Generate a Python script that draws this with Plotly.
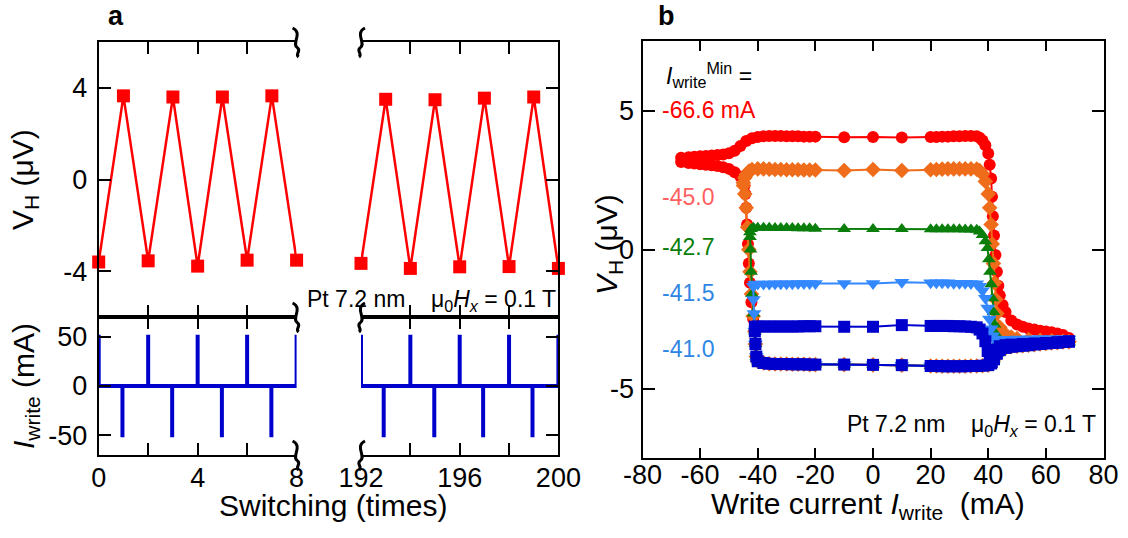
import plotly.graph_objects as go

W, H = 1128, 538
FONT = "Liberation Sans, Arial, Helvetica, sans-serif"

# ---------------- Panel a data ----------------
sw_left = [0, 1, 2, 3, 4, 5, 6, 7, 8]
vh_left = [-3.60, 3.65, -3.55, 3.60, -3.78, 3.60, -3.52, 3.65, -3.52]
sw_right = [192, 193, 194, 195, 196, 197, 198, 199, 200]
vh_right = [-3.66, 3.50, -3.88, 3.48, -3.81, 3.55, -3.80, 3.60, -3.88]

pulse_left_t = [0, 0.96, 2, 2.97, 4, 4.98, 6, 6.98, 8]
pulse_left_I = [52, -52, 52, -52, 52, -52, 52, -52, 52]
pulse_right_t = [192, 192.92, 194, 194.97, 196, 196.95, 198, 198.95, 200]
pulse_right_I = [52, -52, 52, -52, 52, -52, 52, -52, 52]

xt_left_vals = [0, 4, 8]
xt_right_vals = [192, 196, 200]
yt_top_vals = [-4, 0, 4]
yt_bot_vals = [-50, 0, 50]
xt_b_vals = [-80, -60, -40, -20, 0, 20, 40, 60, 80]
yt_b_vals = [-5, 0, 5]

# ---------------- Panel b data ----------------
# common descending (lower-state) branch, +68 mA -> -40 mA
LOWER_I = [68, 66, 64, 62, 60, 58, 56, 54, 52, 50, 48, 46, 44, 43, 42, 41, 40,
           38, 36, 34, 32, 30, 28, 26, 24, 22, 20, 10, 0, -10,
           -20, -22, -24, -26, -28, -30, -32, -34, -36, -38, -40]
LOWER_V = [-3.32, -3.33, -3.35, -3.36, -3.38, -3.40, -3.42, -3.44, -3.46, -3.48, -3.50, -3.54, -3.62,
           -3.75, -3.95, -4.10, -4.16,
           -4.18, -4.19, -4.19, -4.20, -4.20, -4.20, -4.20, -4.20, -4.19, -4.19,
           -4.16, -4.15, -4.14,
           -4.14, -4.14, -4.13, -4.13, -4.13, -4.12, -4.12, -4.12, -4.11, -4.08, -4.02]
# common ascending middle currents
MID_I = [-40, -38, -36, -34, -32, -30, -28, -26, -24, -22, -20, -10, 0, 10,
         20, 22, 24, 26, 28, 30, 32, 34, 36]

# I_write^Min = -66.6 mA (red)
red_down_I = [-40.5, -40.8, -41.0, -41.6, -42.2, -42.7, -43.1, -43.4, -43.7, -44.0, -44.3, -44.6,
              -45.0, -46, -48, -50, -52, -54, -56, -58, -60, -62, -64, -66.6]
red_down_V = [-3.85, -3.40, -2.95, -2.50, -1.90, -1.20, -0.50, 0.20, 0.90, 1.50, 2.00, 2.30,
              2.45, 2.62, 2.78, 2.90, 2.96, 3.00, 3.03, 3.05, 3.07, 3.09, 3.11, 3.15]
red_pre_I = [-66.6, -64, -62, -60, -58, -56, -54, -52, -50, -48, -46, -44, -42]
red_pre_V = [3.30, 3.32, 3.34, 3.35, 3.36, 3.38, 3.40, 3.42, 3.46, 3.55, 3.72, 3.90, 4.00]
red_mid_V = [4.05, 4.07, 4.08, 4.08, 4.08, 4.07, 4.07, 4.07, 4.06, 4.06, 4.06, 4.04, 4.05,
             4.03, 4.05, 4.05, 4.06, 4.06, 4.07, 4.07, 4.08, 4.08, 4.07]
red_post_I = [37, 38, 39, 40, 40.5, 41, 41.3, 41.6, 42, 42.5, 43, 43.5, 44, 45, 46, 48,
              50, 52, 54, 56, 58, 60, 62, 64, 66, 68]
red_post_V = [4.02, 3.92, 3.75, 3.45, 3.05, 2.55, 1.90, 1.20, 0.50, -0.20, -0.80, -1.30,
              -1.65, -2.00, -2.25, -2.55, -2.70, -2.78, -2.84, -2.88, -2.92, -2.95, -2.98,
              -3.02, -3.08, -3.18]

# -45.0 mA (orange)
org_down_I = [-40.5, -40.8, -41.0, -41.6, -42.2, -42.7, -43.1, -43.5, -44.0, -44.5, -45.0]
org_down_V = [-3.85, -3.40, -2.95, -2.40, -1.60, -0.80, 0.00, 0.80, 1.50, 2.00, 2.30]
org_pre_I = [-45.0, -44.5, -44.0, -43.0, -42.0]
org_pre_V = [2.40, 2.58, 2.70, 2.82, 2.88]
org_mid_V = [2.90, 2.90, 2.89, 2.88, 2.88, 2.87, 2.87, 2.87, 2.86, 2.86, 2.86, 2.84, 2.88,
             2.84, 2.87, 2.88, 2.89, 2.90, 2.90, 2.90, 2.90, 2.90, 2.89]
org_post_I = [37, 38, 39, 40, 40.5, 41, 41.4, 41.8, 42.2, 42.6, 43, 44, 46, 48, 50, 54,
              58, 62, 66, 68]
org_post_V = [2.84, 2.72, 2.45, 2.00, 1.50, 0.90, 0.20, -0.50, -1.20, -1.80, -2.30, -2.80,
              -3.05, -3.15, -3.20, -3.24, -3.27, -3.28, -3.30, -3.32]

# -42.7 mA (green)
grn_down_I = [-40.5, -40.8, -41.0, -41.5, -42.0, -42.3, -42.5, -42.7]
grn_down_V = [-3.85, -3.40, -2.95, -2.30, -1.60, -0.80, 0.00, 0.45]
grn_pre_I = [-42.7, -42.3, -41.5]
grn_pre_V = [0.62, 0.74, 0.78]
grn_mid_V = [0.78, 0.78, 0.78, 0.77, 0.77, 0.77, 0.77, 0.76, 0.76, 0.76, 0.75, 0.74, 0.74,
             0.74, 0.73, 0.73, 0.73, 0.73, 0.73, 0.73, 0.72, 0.72, 0.71]
grn_post_I = [37, 38, 39, 39.7, 40.2, 40.6, 41.0, 41.4, 41.8, 42.2, 42.7, 43.5, 45, 48,
              52, 56, 60, 64, 68]
grn_post_V = [0.65, 0.52, 0.30, 0.05, -0.35, -0.80, -1.25, -1.75, -2.25, -2.70, -3.05,
              -3.30, -3.38, -3.40, -3.40, -3.40, -3.40, -3.38, -3.36]

# -41.5 mA (light blue)
lb_down_I = [-40.5, -40.8, -41.0, -41.3, -41.5]
lb_down_V = [-3.85, -3.40, -2.95, -2.30, -1.80]
lb_pre_I = [-41.5, -41.0]
lb_pre_V = [-1.32, -1.25]
lb_mid_V = [-1.24, -1.24, -1.24, -1.23, -1.23, -1.23, -1.23, -1.22, -1.22, -1.22, -1.22,
            -1.22, -1.22, -1.18, -1.20, -1.20, -1.20, -1.20, -1.21, -1.21, -1.21, -1.22, -1.23]
lb_post_I = [37, 38, 39, 39.8, 40.4, 41.0, 41.5, 42.0, 43, 44, 46, 50, 54, 58, 62, 66, 68]
lb_post_V = [-1.32, -1.48, -1.75, -2.10, -2.50, -2.85, -3.10, -3.22, -3.24, -3.24, -3.23,
             -3.22, -3.21, -3.20, -3.20, -3.20, -3.22]

# -41.0 mA (dark blue)
db_down_I = [-40.5, -40.8, -41.0]
db_down_V = [-3.85, -3.40, -2.95]
db_pre_I = [-41.0]
db_pre_V = [-2.78]
db_mid_V = [-2.77, -2.77, -2.77, -2.77, -2.77, -2.77, -2.77, -2.77, -2.76, -2.76, -2.76,
            -2.78, -2.78, -2.72, -2.75, -2.75, -2.75, -2.75, -2.76, -2.76, -2.77, -2.78, -2.80]
db_post_I = [37, 38, 39, 39.8, 40.5, 41.2, 42, 43, 44, 46, 48, 52, 56, 60, 64, 68]
db_post_V = [-2.88, -3.02, -3.30, -3.65, -3.95, -4.05, -3.85, -3.60, -3.48, -3.44, -3.42,
             -3.40, -3.38, -3.36, -3.34, -3.30]

loops = [
    ("-66.6", "#FF0000", "circle", 12, red_down_I, red_down_V, red_pre_I, red_pre_V, red_mid_V, red_post_I, red_post_V),
    ("-45.0", "#EF6C1A", "diamond", 12, org_down_I, org_down_V, org_pre_I, org_pre_V, org_mid_V, org_post_I, org_post_V),
    ("-42.7", "#0A7E0A", "triangle-up", 12, grn_down_I, grn_down_V, grn_pre_I, grn_pre_V, grn_mid_V, grn_post_I, grn_post_V),
    ("-41.5", "#3388FF", "triangle-down", 13, lb_down_I, lb_down_V, lb_pre_I, lb_pre_V, lb_mid_V, lb_post_I, lb_post_V),
    ("-41.0", "#0000CC", "square", 12, db_down_I, db_down_V, db_pre_I, db_pre_V, db_mid_V, db_post_I, db_post_V),
]


def px(x):
    return x / W


def py(y):
    return 1 - y / H


def labels(vals):
    # ASCII hyphen for negatives, as in the reference
    return [str(v) for v in vals]


fig = go.Figure()

# panel a, V_H
RED = "#FF0000"
for xs, ys, xa, ya in [(sw_left, vh_left, "x", "y"), (sw_right, vh_right, "x2", "y2")]:
    fig.add_trace(go.Scatter(x=xs, y=ys, xaxis=xa, yaxis=ya, mode="lines+markers",
                             line=dict(color=RED, width=2.5),
                             marker=dict(symbol="square", size=13, color=RED),
                             cliponaxis=False, showlegend=False))

# panel a, write-current pulses
BLUE = "#0000CC"
for ts, amps, xa, ya in [(pulse_left_t, pulse_left_I, "x3", "y3"),
                         (pulse_right_t, pulse_right_I, "x4", "y4")]:
    px_, py_ = [], []
    for t, a in zip(ts, amps):
        px_ += [t, t, t]
        py_ += [0, a, 0]
    fig.add_trace(go.Scatter(x=px_, y=py_, xaxis=xa, yaxis=ya, mode="lines",
                             line=dict(color=BLUE, width=4), cliponaxis=False,
                             showlegend=False))

# panel b loops
for name, col, sym, size, dI, dV, pI, pV, mV, qI, qV in loops:
    xs = LOWER_I + dI + pI + MID_I + qI
    ys = LOWER_V + dV + pV + mV + qV
    fig.add_trace(go.Scatter(x=xs, y=ys, xaxis="x5", yaxis="y5", mode="lines+markers",
                             line=dict(color=col, width=2),
                             marker=dict(symbol=sym, size=size, color=col, line=dict(width=0)),
                             showlegend=False, name=name))

XL0, XL1, XR0, XR1 = 98.7, 296.6, 361.0, 558.4
Y_TOP, Y_MID, Y_BOT = 42, 317, 455
ax_left = [XL0 / W, XL1 / W]
ax_right = [XR0 / W, XR1 / W]
bx = [642.5 / W, 1103.5 / W]
a_top = [py(Y_MID), py(Y_TOP)]
a_bot = [py(Y_BOT), py(Y_MID)]
b_y = [py(458), py(41)]

common = dict(showline=True, linecolor="black", linewidth=2, showgrid=False, zeroline=False,
              ticks="inside", tickcolor="black", tickwidth=1.5, automargin=False,
              tickfont=dict(family=FONT, size=27, color="black"))

fig.update_layout(
    width=W, height=H, margin=dict(l=0, r=0, t=0, b=0, autoexpand=False),
    paper_bgcolor="white", plot_bgcolor="white",
    font=dict(family=FONT, color="black"),
    xaxis=dict(domain=ax_left, anchor="y", range=[0, 8], tickvals=[2, 4, 6], ticklen=12,
               mirror="ticks", showticklabels=False, **common),
    yaxis=dict(domain=a_top, anchor="x", range=[-6, 6], tickvals=yt_top_vals,
               ticktext=labels(yt_top_vals), ticklen=12, ticklabelstandoff=4, **common),
    xaxis2=dict(domain=ax_right, anchor="y2", range=[192, 200], tickvals=[194, 196, 198],
                ticklen=12, mirror="ticks", showticklabels=False, **common),
    yaxis2=dict(domain=a_top, anchor="x2", range=[-6, 6], side="right", tickvals=yt_top_vals,
                ticklen=12, showticklabels=False, **common),
    xaxis3=dict(domain=ax_left, anchor="y3", range=[0, 8], tickvals=xt_left_vals,
                ticktext=labels(xt_left_vals), mirror="ticks",
                minor=dict(tickvals=[2, 4, 6], ticks="inside", ticklen=12, tickwidth=1.5,
                           tickcolor="black"),
                ticklabelstandoff=-2,
                **{**common, "ticks": ""}),
    yaxis3=dict(domain=a_bot, anchor="x3", range=[-70, 70], tickvals=yt_bot_vals,
                ticktext=labels(yt_bot_vals), ticklen=12, ticklabelstandoff=4, **common),
    xaxis4=dict(domain=ax_right, anchor="y4", range=[192, 200], tickvals=xt_right_vals,
                ticktext=labels(xt_right_vals), mirror="ticks",
                minor=dict(tickvals=[194, 196, 198], ticks="inside", ticklen=12, tickwidth=1.5,
                           tickcolor="black"),
                ticklabelstandoff=-2,
                **{**common, "ticks": ""}),
    yaxis4=dict(domain=a_bot, anchor="x4", range=[-70, 70], side="right", tickvals=yt_bot_vals,
                ticklen=12, showticklabels=False, **common),
    xaxis5=dict(domain=bx, anchor="y5", range=[-80, 80], tickvals=xt_b_vals,
                ticktext=labels(xt_b_vals), ticklen=10, mirror="ticks",
                ticklabelstandoff=-8, **common),
    yaxis5=dict(domain=b_y, anchor="x5", range=[-7.5, 7.5], tickvals=yt_b_vals,
                ticktext=labels(yt_b_vals), ticklen=12,
                mirror="ticks", ticklabelstandoff=1, **common),
)

# axis-break squiggles: paper-anchored (not clipped), drawn in pixel units
SQ_R = "M -4,14 C 7,9 -6,-2 1,-6 C 5,-9 -2,-12 2,-15"
SQ_L = "M 4,14 C -7,9 6,-2 -1,-6 C -5,-9 2,-12 -2,-15"
for xpix, path in [(XL1, SQ_R), (XR0, SQ_L)]:
    for ypix in (Y_TOP, Y_MID, Y_BOT):
        fig.add_shape(type="path", xref="paper", yref="paper", xsizemode="pixel",
                      ysizemode="pixel", xanchor=px(xpix), yanchor=py(ypix), path=path,
                      line=dict(color="black", width=3), layer="above")

NB = "\u00a0"


def ann(text, x, y, size, color="black", xanchor="center", yanchor="middle", angle=0):
    fig.add_annotation(text=text, x=px(x), y=py(y), xref="paper", yref="paper",
                       xanchor=xanchor, yanchor=yanchor, showarrow=False, textangle=angle,
                       font=dict(family=FONT, size=size, color=color))


ann("<b>a</b>", 116, 16, 27)
ann("<b>b</b>", 666, 16, 27)
ann("V<sub>H</sub> (μV)", 25, 180, 30, angle=-90)
ann("<i>I</i><sub>write</sub> (mA)", 25, 386, 30, angle=-90)
ann("Switching (times)", 333, 505, 30)
ann("Pt 7.2 nm" + NB * 4 + "μ<sub>0</sub><i>H</i><sub><i>x</i></sub> = 0.1 T", 305, 300, 23,
    xanchor="left")
ann("<i>V</i><sub>H</sub> (μV)", 608, 245, 30, angle=-90)
ann("Write current <i>I</i><sub>write</sub>" + NB * 2 + "(mA)", 868, 505, 30)
ann("Pt 7.2 nm" + NB * 4 + "μ<sub>0</sub><i>H</i><sub><i>x</i></sub> = 0.1 T", 845, 425, 23,
    xanchor="left")
ann("<i>I</i><sub>write</sub><sup>Min</sup> =", 664, 75, 23, xanchor="left")
ann("-66.6 mA", 660, 110, 23, color="#FF0000", xanchor="left")
ann("-45.0", 660, 197, 23, color="#FF6060", xanchor="left")
ann("-42.7", 660, 247, 23, color="#0A7E0A", xanchor="left")
ann("-41.5", 660, 293, 23, color="#2E86E6", xanchor="left")
ann("-41.0", 660, 349, 23, color="#2E86E6", xanchor="left")

fig.write_html("out.html")
